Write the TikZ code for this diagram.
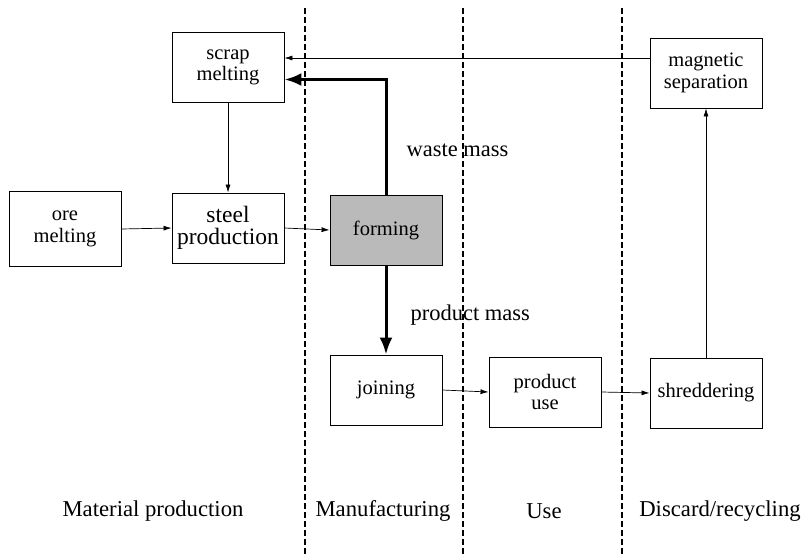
\documentclass[tikz,border=0pt]{standalone}
\usepackage{fontspec}
\setmainfont{Liberation Serif}
\usetikzlibrary{arrows.meta}
\begin{document}
\begin{tikzpicture}[x=1pt, y=-1pt,
box/.style={draw, line width=0.9pt, align=center, minimum width=112pt, minimum height=70pt, inner sep=2pt, font=\fontsize{20.5}{21.5}\selectfont},
mainbox/.style={box, fill=black!27},
arrow/.style={-{Latex[length=8pt,width=5pt]}, line width=0.7pt},
flow/.style={-{Latex[length=17pt,width=13pt]}, line width=3pt},
phase/.style={font=\fontsize{22.7}{24}\selectfont},
flowtext/.style={anchor=west, font=\fontsize{22.5}{24}\selectfont},
border/.style={line width=1.4pt, dash pattern=on 6pt off 3pt}
]
\useasboundingbox (0,0) rectangle (801,557);
\draw[border] (305,8) -- (305,557);
\draw[border] (463,8) -- (463,557);
\draw[border] (622,8) -- (622,557);
\node[box] (scrap) at (228,67.5) {scrap\\melting};
\node[box, minimum height=75pt] (ore) at (65,229) {ore\\melting};
\node[box, font=\fontsize{23.5}{22}\selectfont] (steel) at (228,228) {steel\\production};
\node[mainbox] (forming) at (386,230) {forming};
\node[box] (joining) at (386,390) {joining};
\node[box] (use) at (545,392) {product\\use};
\node[box] (shred) at (706,393) {shreddering};
\node[box] (magnet) at (706,73) {magnetic\\separation};
\node[flowtext] (wastelbl) at (403,150) {waste mass};
\node[flowtext] (prodlbl) at (407,315) {product mass};
\node[phase] (matprod) at (153,511) {Material production};
\node[phase] (manuf) at (383,511) {Manufacturing};
\node[phase] (usephase) at (544,511) {Use};
\node[phase] (discard) at (720,511) {Discard/recycling};
\coordinate (back) at ([yshift=15pt]magnet.west);
\coordinate (waste) at ([yshift=-12pt]scrap.east);
\draw[arrow] (back) -- (back -| scrap.east);
\draw[flow] (forming.north) |- (waste);
\draw[flow] (forming.south) -- (joining.north);
\draw[arrow] (scrap.south) -- (steel.north);
\draw[arrow] (ore.east) -- (steel.west);
\draw[arrow] (steel.east) -- (forming.west);
\draw[arrow] (joining.east) -- (use.west);
\draw[arrow] (use.east) -- (shred.west);
\draw[arrow] (shred.north) -- (magnet.south);
\end{tikzpicture}
\end{document}
